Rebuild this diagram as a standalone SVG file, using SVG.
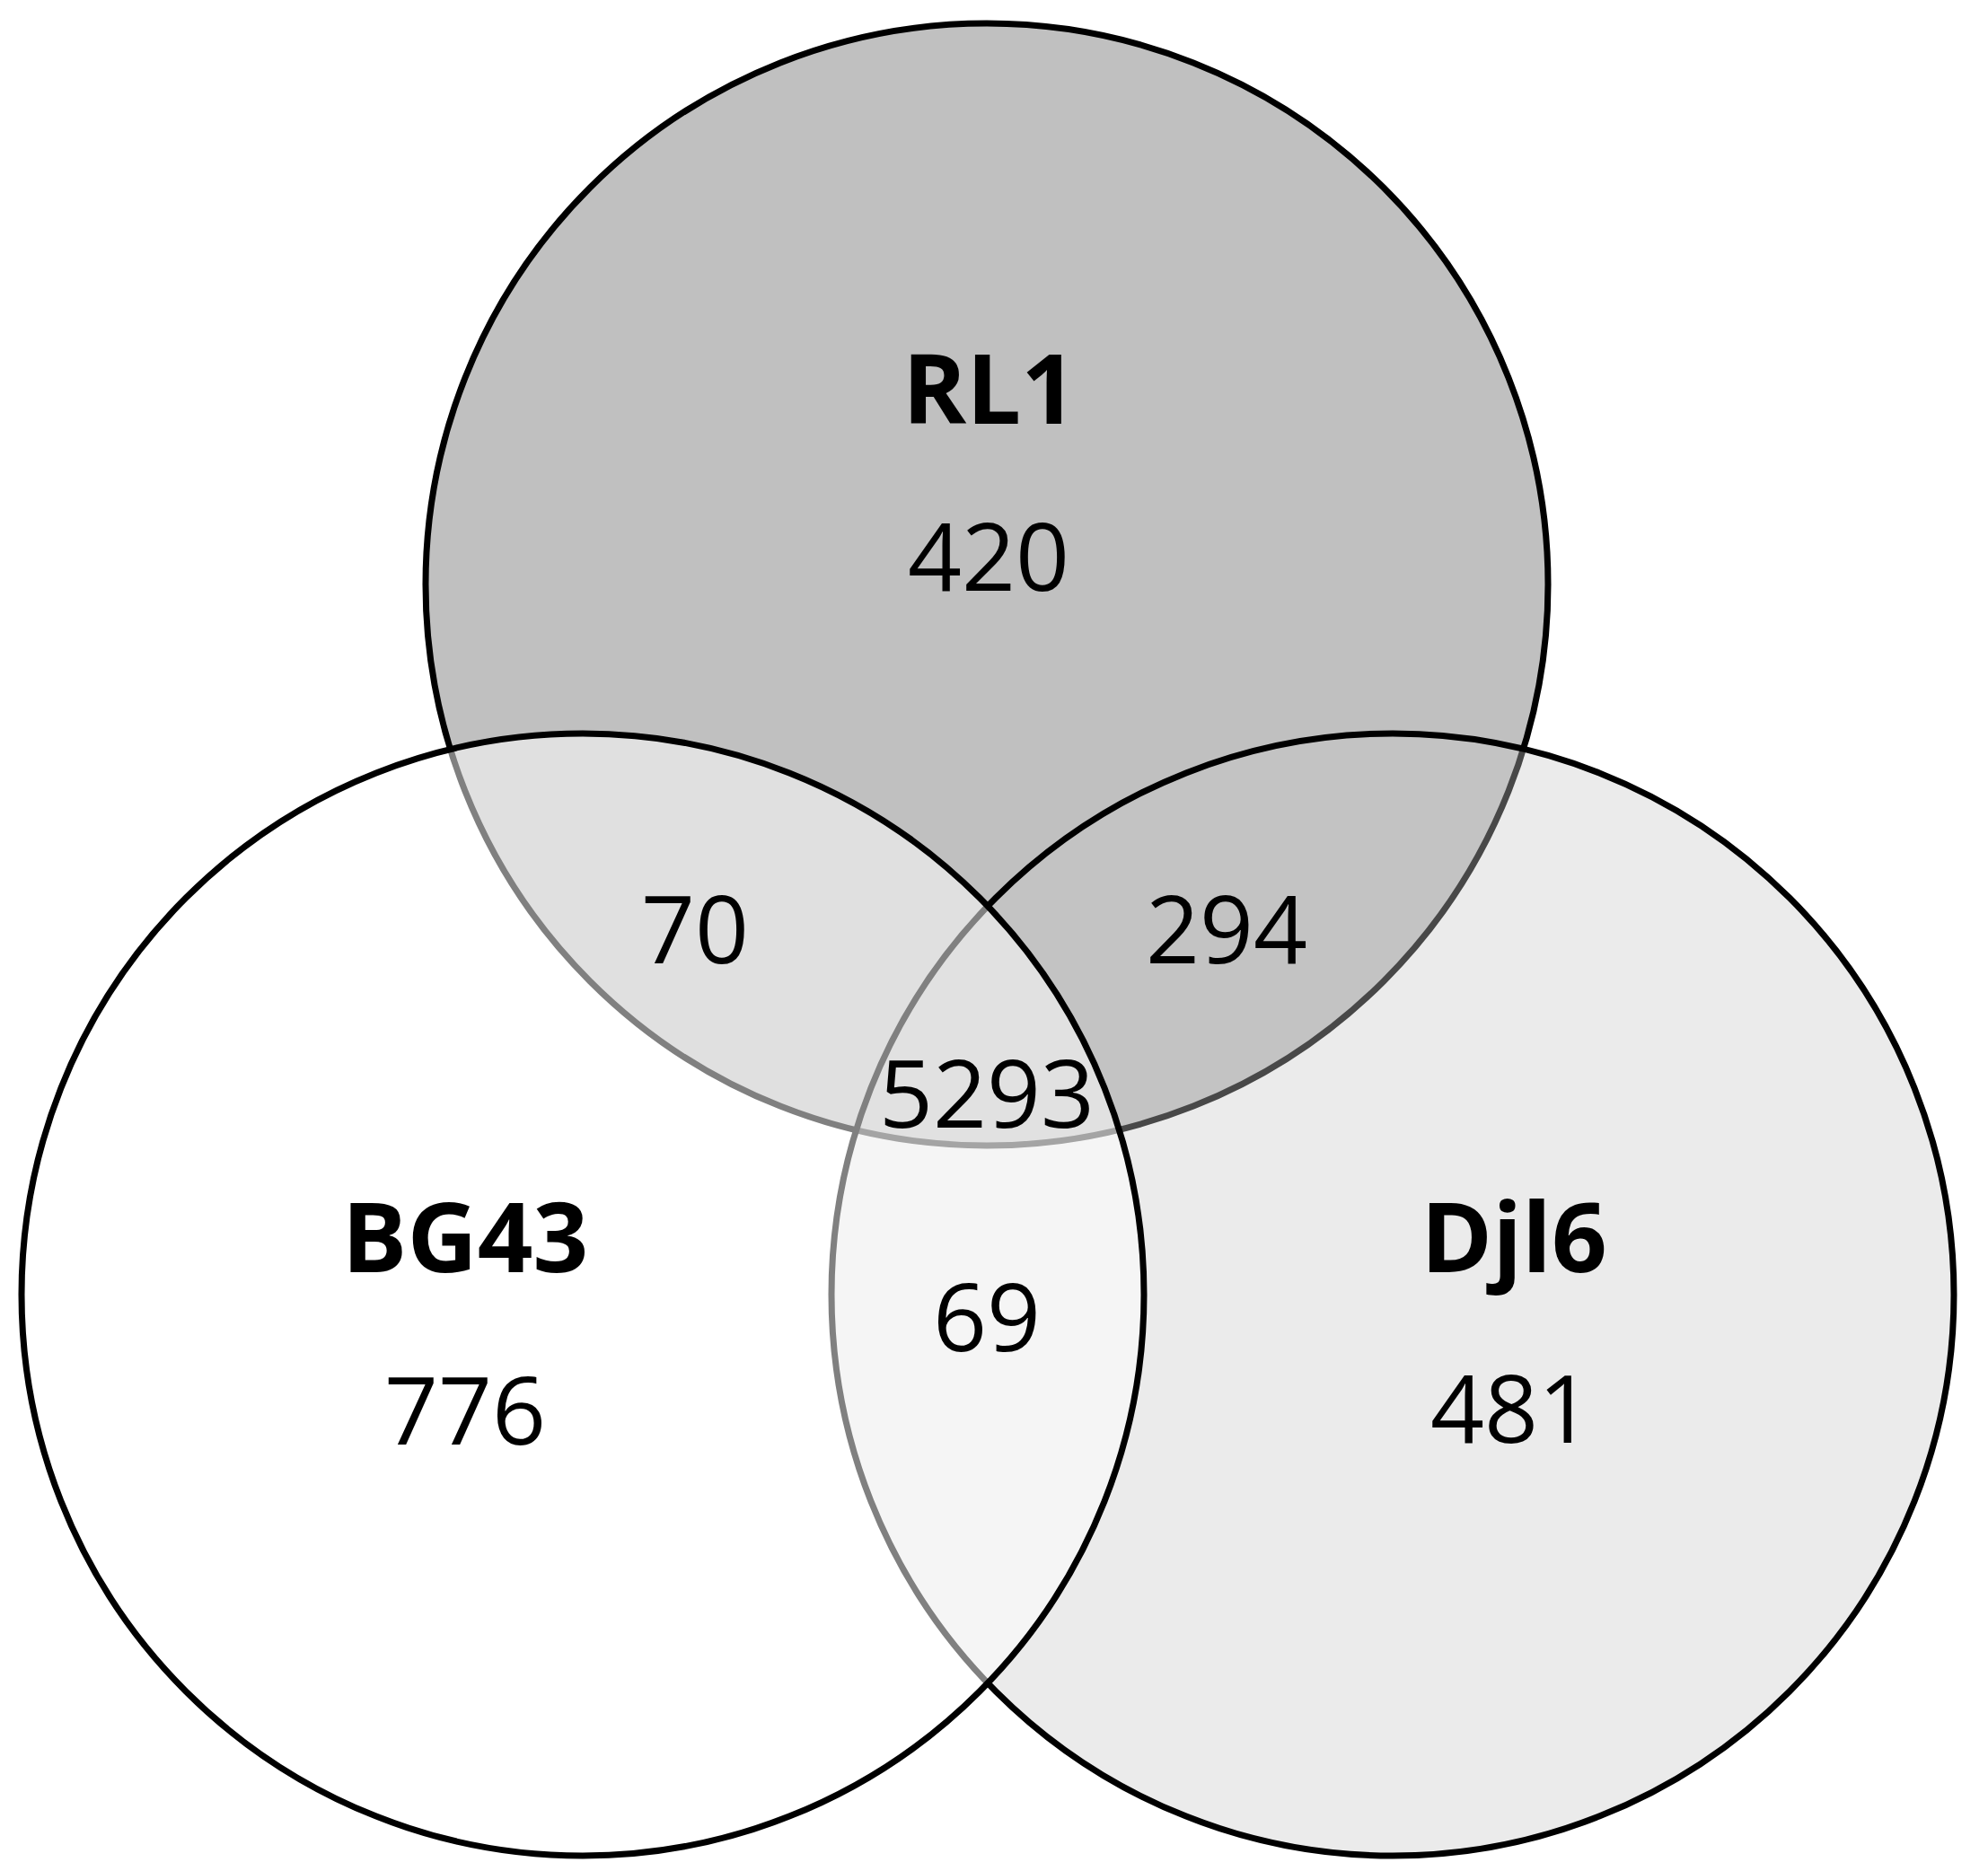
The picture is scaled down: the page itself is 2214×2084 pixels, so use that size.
<svg xmlns="http://www.w3.org/2000/svg" width="2214" height="2084" viewBox="0 0 2214 2084">
  <style>
    .ring { stroke: #000; stroke-width: 7; }
    .name { font-family: "Open Sans", "Liberation Sans", sans-serif; font-weight: bold; font-size: 108px; fill: #000; text-anchor: middle; }
    .num { font-family: "Open Sans", "Liberation Sans", sans-serif; font-size: 105px; fill: #000; text-anchor: middle; }
  </style>
  <rect x="0" y="0" width="2214" height="2084" fill="#fff"/>
  <g id="node-RL1">
    <circle class="ring" cx="1099" cy="651" r="625" fill="#c0c0c0"/>
    <text class="name" x="1102" y="472">RL1</text>
    <text class="num" x="1101" y="658">420</text>
  </g>
  <g id="node-Djl6">
    <circle class="ring" cx="1551" cy="1442" r="625" fill="#c8c8c8" fill-opacity="0.36"/>
    <text class="name" x="1686" y="1417">Djl6</text>
    <text class="num" x="1683" y="1607">481</text>
  </g>
  <g id="node-BG43">
    <circle class="ring" cx="649" cy="1442" r="625" fill="#ffffff" fill-opacity="0.5"/>
    <text class="name" x="518" y="1417">BG43</text>
    <text class="num" x="518" y="1609">776</text>
  </g>
  <g id="connectors"></g>
  <g id="overlaps">
    <text class="num" x="774" y="1073">70</text>
    <text class="num" x="1366" y="1073">294</text>
    <text class="num" x="1099" y="1256">5293</text>
    <text class="num" x="1099" y="1505">69</text>
  </g>
</svg>
